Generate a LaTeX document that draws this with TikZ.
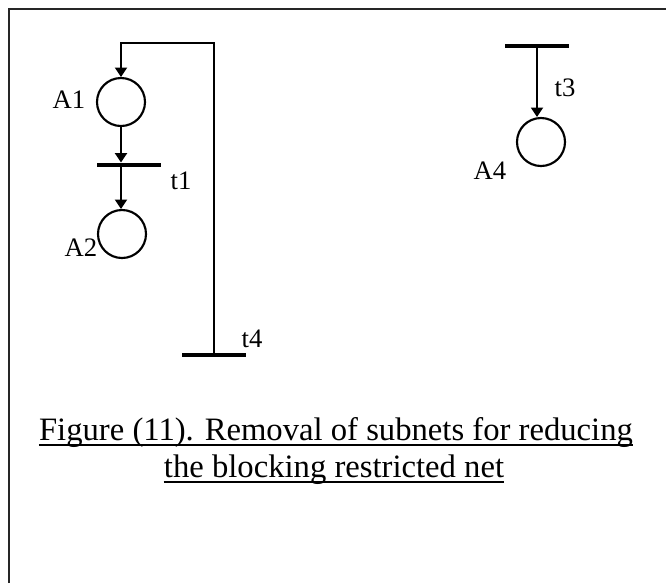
\documentclass[tikz,border=0pt]{standalone}
\usepackage{fontspec}
\setmainfont{Liberation Serif}
\usetikzlibrary{arrows.meta}
\begin{document}
\begin{tikzpicture}[x=0.75pt,y=-0.75pt,
  place/.style={circle,draw,line width=1.6pt,minimum size=36pt,inner sep=0pt},
  trans/.style={rectangle,fill=black,minimum width=48pt,minimum height=3.4pt,inner sep=0pt},
  lbl/.style={font=\fontsize{20}{22}\selectfont,inner sep=0pt},
  captext/.style={font=\fontsize{24.5}{28}\selectfont,inner sep=0pt,anchor=base},
  arc/.style={line width=1.4pt,-{Triangle[length=7pt,width=9pt]}},
  ln/.style={line width=1.3pt}]
\useasboundingbox (0,0) rectangle (666,583);
% frame (top and left visible)
\draw[line width=1.5pt,black!85] (9,583) -- (9,9) -- (666,9);
% nodes
\node[place] (a1) at (121,102) {};
\node[place] (a2) at (122,234) {};
\node[place] (a4) at (541,142) {};
\node[trans] (t1) at (129,165) {};
\node[trans] (t4) at (214,355) {};
\node[trans] (t3) at (537,46) {};
\coordinate (top) at (0,43);
% labels
\node[lbl] at (69,100) {A1};
\node[lbl] at (181,181) {t1};
\node[lbl] at (81,248) {A2};
\node[lbl] at (252,339) {t4};
\node[lbl] at (565,88) {t3};
\node[lbl] at (490,171) {A4};
% arcs
\draw[arc] (a1) -- (a1 |- t1.north);
\draw[arc] (a1 |- t1) -- (a1 |- a2.north);
\draw[arc] (t4.center) -- (t4 |- top) -| (a1.north);
\draw[arc] (t3.center) -- (t3 |- a4.north);
% caption
\node[captext] (c1) at (336,440) {Figure (11). Removal of subnets for reducing};
\node[captext] (c2) at (334,477) {the blocking restricted net};
\draw[ln] ([yshift=-4pt]c1.base west) -- ([yshift=-4pt]c1.base east);
\draw[ln] ([yshift=-4pt]c2.base west) -- ([yshift=-4pt]c2.base east);
\end{tikzpicture}
\end{document}
